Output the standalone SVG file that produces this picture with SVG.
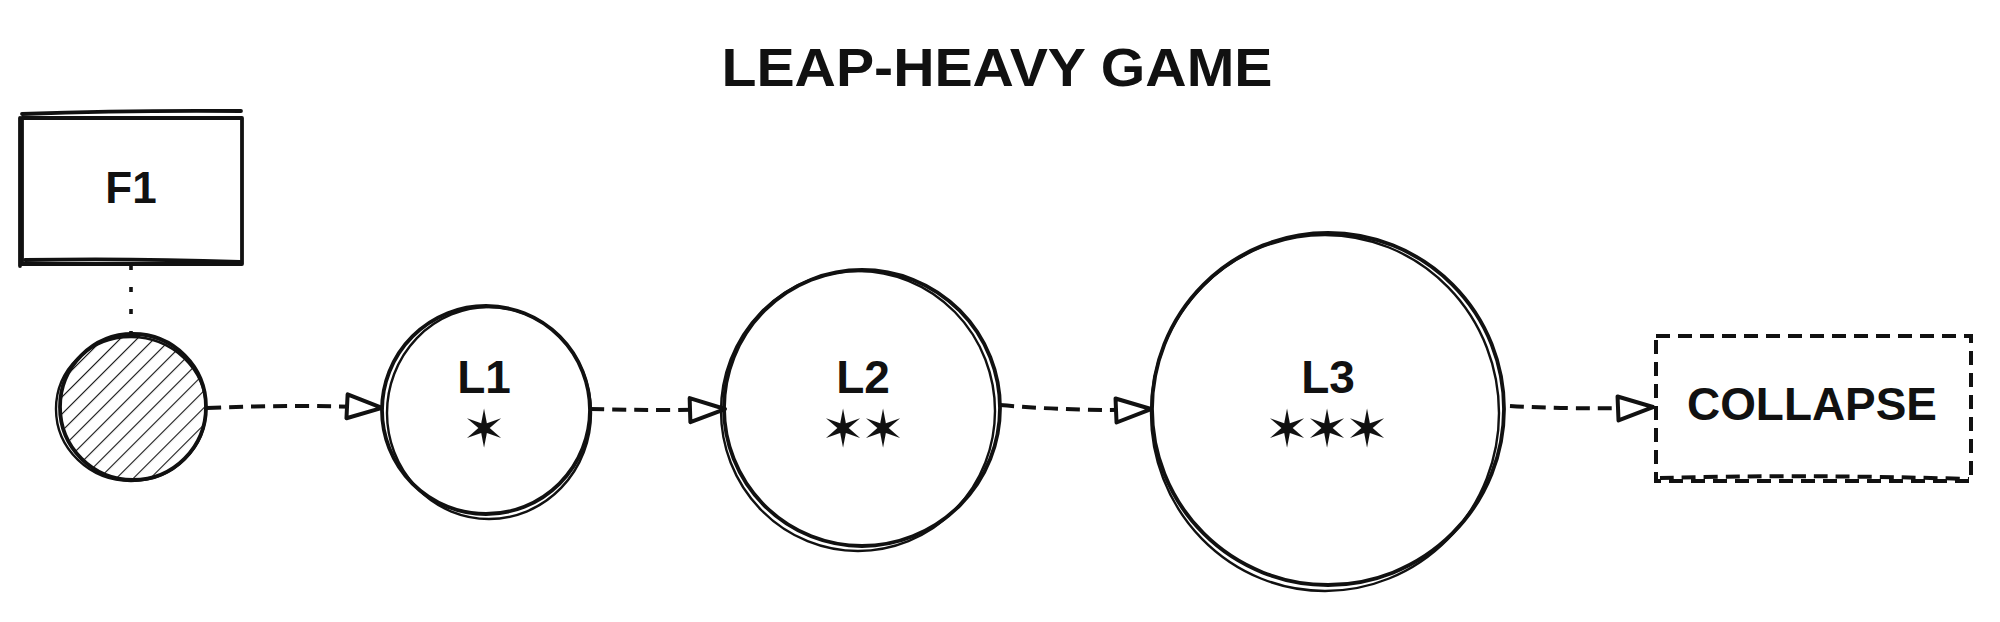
<svg xmlns="http://www.w3.org/2000/svg" width="2000" height="622" viewBox="0 0 2000 622">
<style>
.bg{fill:#ffffff}
.s{fill:none;stroke:#111;stroke-width:3.8;stroke-linecap:round;stroke-linejoin:round}
.s2{fill:none;stroke:#111;stroke-width:2.4;stroke-linecap:round}
.d{fill:none;stroke:#111;stroke-width:4;stroke-dasharray:14 8;stroke-linecap:butt}
.dot{fill:none;stroke:#111;stroke-width:3.6;stroke-dasharray:5 17}
.t{font-family:"Liberation Sans",Arial,sans-serif;font-weight:bold;fill:#111;text-anchor:middle}
.st{font-family:"DejaVu Sans",sans-serif;fill:#111;text-anchor:middle}
.hatch{stroke:#111;stroke-width:2.2}
</style>
<defs>
<marker id="ah" viewBox="0 0 42 32" refX="40" refY="16" markerWidth="42" markerHeight="32" markerUnits="userSpaceOnUse" orient="auto">
<path d="M4,4 L39,16 L4,28 Z" fill="#fff" stroke="#111" stroke-width="4" stroke-linejoin="round"/>
</marker>
<pattern id="hp" patternUnits="userSpaceOnUse" width="12" height="12" patternTransform="rotate(45)">
<line x1="0" y1="0" x2="0" y2="12" class="hatch"/>
</pattern>
</defs>
<rect class="bg" x="0" y="0" width="2000" height="622"/>

<text class="t" x="997" y="86" font-size="54" textLength="551" lengthAdjust="spacingAndGlyphs">LEAP-HEAVY GAME</text>

<g id="connectors">
<line class="dot" x1="131" y1="265" x2="131" y2="333"/>
<path class="d" d="M207,408 Q300,404 383,408" marker-end="url(#ah)"/>
<path class="d" d="M590,409 Q660,411 726,409" marker-end="url(#ah)"/>
<path class="d" d="M1000,405 Q1080,412 1152,409" marker-end="url(#ah)"/>
<path class="d" d="M1510,406 Q1580,410 1654,407" marker-end="url(#ah)"/>
</g>

<g id="node-f1">
<rect class="s" x="22" y="118" width="220" height="146"/>
<path class="s" d="M22,114 Q130,110 241,111"/>
<path class="s" d="M25,260 Q130,258 240,262"/>
<path class="s" d="M20,118 L20,266"/>
<text class="t" x="131" y="203" font-size="44">F1</text>
</g>

<g id="node-start">
<circle cx="133" cy="407" r="72" fill="url(#hp)" stroke="none"/>
<circle class="s" cx="133" cy="407" r="73" stroke-width="4.5"/>
<ellipse class="s2" cx="131" cy="409" rx="75" ry="72"/>
</g>

<g id="node-l1">
<circle class="s" cx="486" cy="410" r="104"/>
<ellipse class="s2" cx="489" cy="413" rx="102" ry="106"/>
<text class="t" x="484" y="393" font-size="46">L1</text>
<text class="st" x="484" y="447" font-size="52">✶</text>
</g>

<g id="node-l2">
<circle class="s" cx="862" cy="408" r="138"/>
<ellipse class="s2" cx="858" cy="411" rx="137" ry="140"/>
<text class="t" x="863" y="393" font-size="46">L2</text>
<text class="st" x="843" y="447" font-size="52">✶</text>
<text class="st" x="883" y="447" font-size="52">✶</text>
</g>

<g id="node-l3">
<circle class="s" cx="1328" cy="409" r="176"/>
<ellipse class="s2" cx="1325" cy="413" rx="174" ry="178"/>
<text class="t" x="1328" y="393" font-size="46">L3</text>
<text class="st" x="1287" y="447" font-size="52">✶</text>
<text class="st" x="1327" y="447" font-size="52">✶</text>
<text class="st" x="1367" y="447" font-size="52">✶</text>
</g>

<g id="node-collapse">
<rect class="d" x="1656" y="336" width="315" height="145"/>
<path class="d" d="M1660,478 Q1800,474 1969,479"/>
<text class="t" x="1812" y="420" font-size="46" textLength="250" lengthAdjust="spacingAndGlyphs">COLLAPSE</text>
</g>
</svg>
